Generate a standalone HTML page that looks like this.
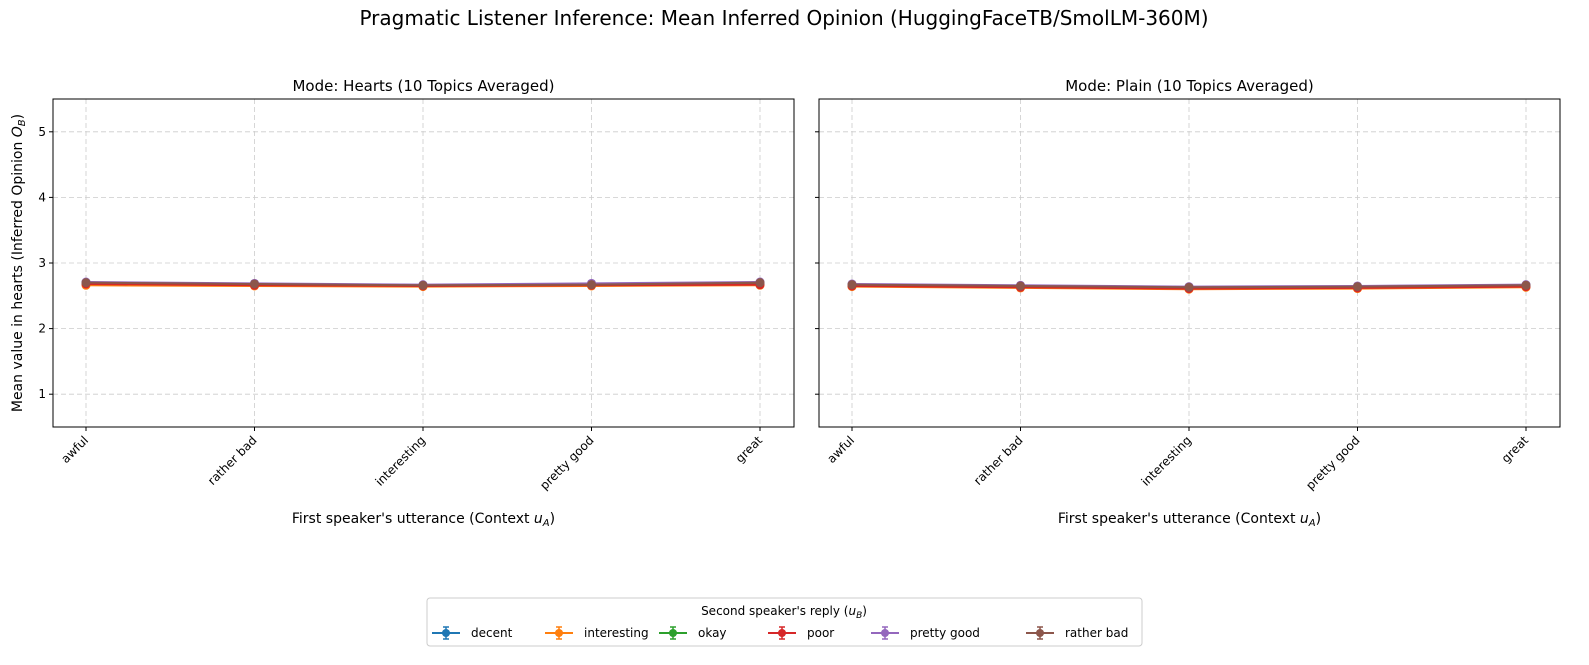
<!DOCTYPE html>
<html><head><meta charset="utf-8"><style>
html,body{margin:0;padding:0;background:#fff;overflow:hidden;width:1589px;height:665px;font-family:"Liberation Sans","DejaVu Sans",sans-serif;}
svg{display:block;position:fixed;left:0;top:0;overflow:hidden;}
svg text{font-family:"DejaVu Sans","Liberation Sans",sans-serif;}
</style></head><body>
<svg id="chart" width="1589" height="665" viewBox="0 0 1589 665" xmlns="http://www.w3.org/2000/svg">
<text x="784" y="25" font-size="20" text-anchor="middle">Pragmatic Listener Inference: Mean Inferred Opinion (HuggingFaceTB/SmolLM-360M)</text>
<g id="panels"></g>
<g id="legend">
<rect x="427" y="598" width="715" height="48" fill="#fff" stroke="#ccc" rx="3"/>
<text x="784" y="615" font-size="12" text-anchor="middle">Second speaker's reply (<tspan font-style="italic">u</tspan><tspan font-size="9" dy="3" font-style="italic">B</tspan><tspan dy="-3">)</tspan></text>
</g>
</svg>
<script>
const categories=["awful","rather bad","interesting","pretty good","great"];
const seriesNames=["decent","interesting","okay","poor","pretty good","rather bad"];
const colors=["#1f77b4","#ff7f0e","#2ca02c","#d62728","#9467bd","#8c564b"];
const heartsDecent=[2.69,2.67,2.66,2.67,2.68];
const heartsInteresting=[2.66,2.65,2.64,2.65,2.66];
const heartsOkay=[2.70,2.68,2.66,2.68,2.69];
const heartsPoor=[2.68,2.66,2.65,2.66,2.67];
const heartsPrettyGood=[2.71,2.69,2.67,2.69,2.71];
const heartsRatherBad=[2.70,2.68,2.66,2.67,2.70];
const plainDecent=[2.66,2.64,2.62,2.63,2.65];
const plainInteresting=[2.64,2.62,2.60,2.61,2.63];
const plainOkay=[2.67,2.65,2.63,2.64,2.66];
const plainPoor=[2.65,2.63,2.61,2.62,2.64];
const plainPrettyGood=[2.68,2.66,2.64,2.65,2.67];
const plainRatherBad=[2.67,2.65,2.63,2.64,2.66];
const yTicks=[1,2,3,4,5];
const panelTitles=["Mode: Hearts (10 Topics Averaged)","Mode: Plain (10 Topics Averaged)"];
const panelData=[[heartsDecent,heartsInteresting,heartsOkay,heartsPoor,heartsPrettyGood,heartsRatherBad],[plainDecent,plainInteresting,plainOkay,plainPoor,plainPrettyGood,plainRatherBad]];
const NS="http://www.w3.org/2000/svg";
function mk(tag,attrs,parent){const e=document.createElementNS(NS,tag);for(const k in attrs)e.setAttribute(k,attrs[k]);parent.appendChild(e);return e;}
const panels=document.getElementById('panels');
const lefts=[53,819],W=741,T0=99,H=328;
panelData.forEach((data,p)=>{
  const L=lefts[p];
  const g=mk('g',{},panels);
  
  
  const xs=i=>L+33+i*(W-67)/(categories.length-1);
  const ys=v=>T0+(5.5-v)/5*H;
  yTicks.forEach(t=>{const y=ys(t);
    const l=mk('line',{x1:L,x2:L+W,y1:y,y2:y,stroke:'#ccc','stroke-dasharray':'5,3','stroke-width':0.8},g);
    
    
    mk('line',{x1:L-4,x2:L,y1:y,y2:y,stroke:'#000'},g);
    if(p===0){const tx=mk('text',{x:L-7,y:y+4,'font-size':12,'text-anchor':'end'},g);tx.textContent=t;
      
      }
  });
  categories.forEach((c,i)=>{const x=xs(i);
    const l=mk('line',{x1:x,x2:x,y1:T0,y2:T0+H,stroke:'#ccc','stroke-dasharray':'5,3','stroke-width':0.8},g);
    
    
    mk('line',{x1:x,x2:x,y1:T0+H,y2:T0+H+4,stroke:'#000'},g);
    const tx=mk('text',{x:x+3,y:T0+H+14,'font-size':12,'text-anchor':'end',transform:`rotate(-45 ${x+3} ${T0+H+14})`},g);tx.textContent=c;
    
    
  });
  data.forEach((vals,s)=>{
    const pts=vals.map((v,i)=>xs(i)+','+ys(v)).join(' ');
    const pl=mk('polyline',{points:pts,fill:'none',stroke:colors[s],'stroke-width':2},g);
    
    
    vals.forEach((v,i)=>{const c=mk('circle',{cx:xs(i),cy:ys(v),r:4.5,fill:colors[s]},g);
      
      });
  });
  mk('rect',{x:L,y:T0,width:W,height:H,fill:'none',stroke:'#000','stroke-width':1},g);
  const tt=mk('text',{x:L+W/2,y:T0-8,'font-size':15,'text-anchor':'middle'},g);tt.textContent=panelTitles[p];
  
  
  const xl=mk('text',{x:L+W/2,y:523,'font-size':14,'text-anchor':'middle'},g);
  xl.innerHTML="First speaker's utterance (Context <tspan font-style='italic'>u</tspan><tspan font-size='10' dy='3' font-style='italic'>A</tspan><tspan dy='-3'>)</tspan>";
  
  
});
const yl=mk('text',{x:22,y:263,'font-size':14,'text-anchor':'middle',transform:'rotate(-90 22 263)'},panels);
yl.innerHTML="Mean value in hearts (Inferred Opinion <tspan font-style='italic'>O</tspan><tspan font-size='10' dy='3' font-style='italic'>B</tspan><tspan dy='-3'>)</tspan>";


const leg=document.getElementById('legend');
const lx=[432,545,659,768,871,1026];
seriesNames.forEach((n,s)=>{
  const g=mk('g',{},leg);
  
  
  const x=lx[s],y=633;
  mk('line',{x1:x,x2:x+28,y1:y,y2:y,stroke:colors[s],'stroke-width':2},g);
  mk('line',{x1:x+14,x2:x+14,y1:y-6,y2:y+6,stroke:colors[s],'stroke-width':1.5},g);
  mk('line',{x1:x+11,x2:x+17,y1:y-6,y2:y-6,stroke:colors[s],'stroke-width':1.5},g);
  mk('line',{x1:x+11,x2:x+17,y1:y+6,y2:y+6,stroke:colors[s],'stroke-width':1.5},g);
  mk('circle',{cx:x+14,cy:y,r:4,fill:colors[s]},g);
  const t=mk('text',{x:x+39,y:y+4,'font-size':12},g);t.textContent=n;
});
</script>
</body></html>
